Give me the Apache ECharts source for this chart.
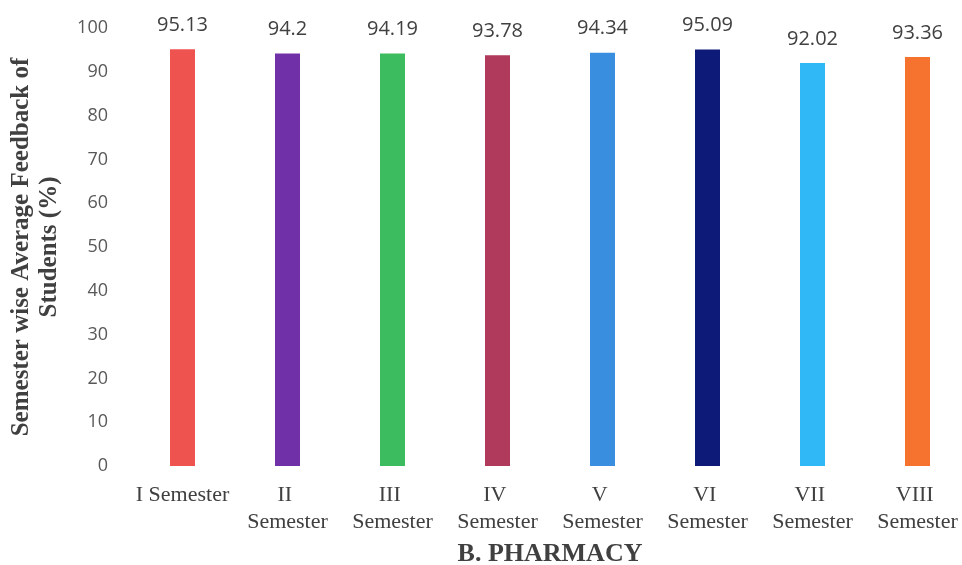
<!DOCTYPE html>
<html>
<head>
<meta charset="utf-8">
<script src="https://cdn.jsdelivr.net/npm/echarts@6/dist/echarts.min.js"></script>
<style>
html,body{margin:0;padding:0;background:#fff;}
#chart{width:962px;height:565px;}
</style>
</head>
<body>
<div id="chart"></div>
<script>
const categories = ["I Semester", "II Semester", "III Semester", "IV Semester", "V Semester", "VI Semester", "VII Semester", "VIII Semester"];
const feedback = [95.13, 94.2, 94.19, 93.78, 94.34, 95.09, 92.02, 93.36];
const barColors = ["#ef5350", "#7030a8", "#3dbb5f", "#b03a5b", "#3a8ee0", "#0d1a78", "#2fb8f5", "#f5722f"];
const yTicks = [0, 10, 20, 30, 40, 50, 60, 70, 80, 90, 100];

const chart = echarts.init(document.getElementById('chart'), null, {renderer: 'canvas'});
chart.setOption({
  animation: false,
  backgroundColor: '#ffffff',
  grid: {left: 130, top: 28, width: 840, bottom: 99, containLabel: false, outerBoundsMode: 'none'},
  xAxis: {
    type: 'category',
    data: categories,
    name: 'B. PHARMACY',
    nameLocation: 'middle',
    nameGap: 74,
    nameTextStyle: {fontFamily: 'Liberation Serif', fontWeight: 'bold', fontSize: 26, color: '#404040'},
    axisLine: {show: false},
    axisTick: {show: false},
    axisLabel: {
      margin: 16,
      fontFamily: 'Liberation Serif',
      fontSize: 22,
      lineHeight: 27,
      color: '#404040',
      interval: 0,
      width: 97,
      overflow: 'break'
    }
  },
  yAxis: {
    type: 'value',
    min: yTicks[0],
    max: yTicks[yTicks.length - 1],
    interval: 10,
    name: 'Semester wise Average Feedback of\nStudents (%)',
    nameLocation: 'middle',
    nameRotate: 90,
    nameGap: 66,
    nameTextStyle: {fontFamily: 'Liberation Serif', fontWeight: 'bold', fontSize: 25, lineHeight: 28, color: '#404040'},
    axisLine: {show: false},
    axisTick: {show: false},
    splitLine: {show: false},
    axisLabel: {margin: 22, fontFamily: 'Open Sans', fontSize: 18, color: '#595959'}
  },
  series: [{
    type: 'bar',
    data: feedback.map((v, i) => ({value: v, itemStyle: {color: barColors[i]}})),
    barWidth: 25,
    label: {
      show: true,
      position: 'top',
      distance: 14,
      fontFamily: 'Open Sans',
      fontSize: 20,
      color: '#404040'
    }
  }]
});
</script>
</body>
</html>
